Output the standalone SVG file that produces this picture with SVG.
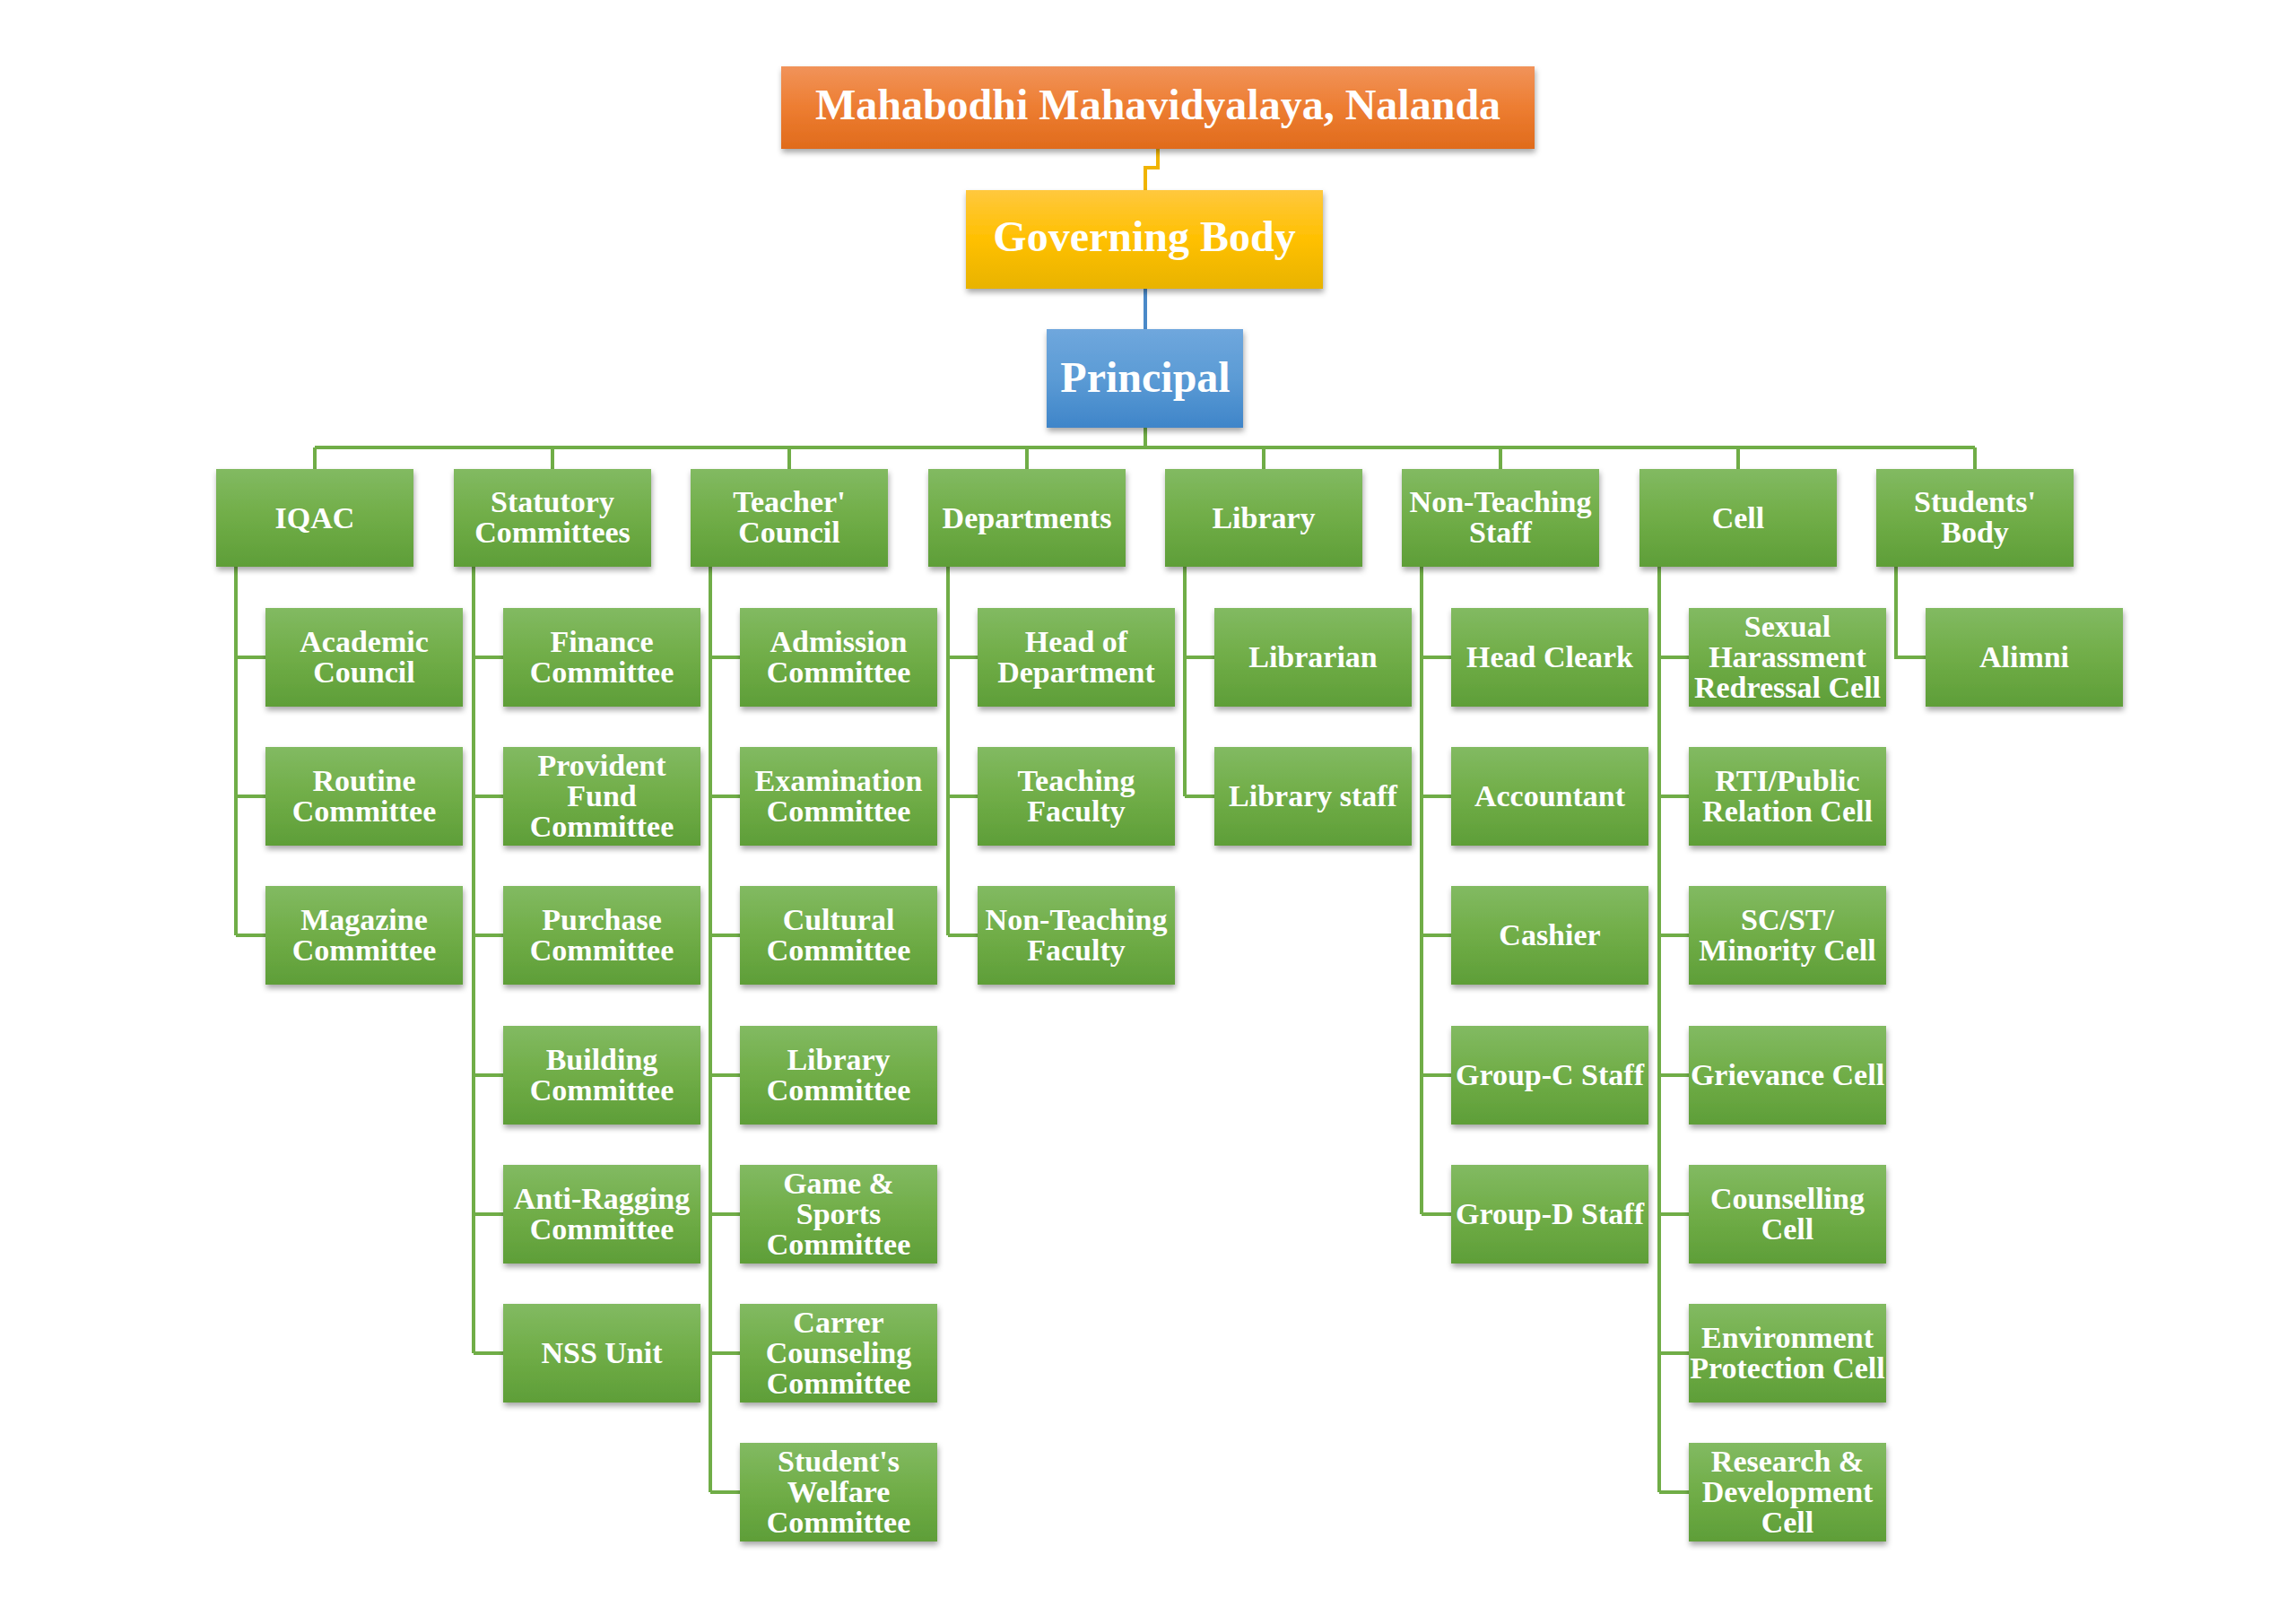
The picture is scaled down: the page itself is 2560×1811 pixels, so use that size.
<svg xmlns="http://www.w3.org/2000/svg" width="2560" height="1811" viewBox="0 0 2560 1811">
<defs>
<linearGradient id="gGreen" x1="0" y1="0" x2="0" y2="1"><stop offset="0" stop-color="#82BA62"/><stop offset="0.5" stop-color="#70AD47"/><stop offset="1" stop-color="#5E9E38"/></linearGradient>
<linearGradient id="gOrange" x1="0" y1="0" x2="0" y2="1"><stop offset="0" stop-color="#F1935A"/><stop offset="0.5" stop-color="#ED7D31"/><stop offset="1" stop-color="#E06B1C"/></linearGradient>
<linearGradient id="gGold" x1="0" y1="0" x2="0" y2="1"><stop offset="0" stop-color="#FFC83E"/><stop offset="0.5" stop-color="#FFC000"/><stop offset="1" stop-color="#E8B300"/></linearGradient>
<linearGradient id="gBlue" x1="0" y1="0" x2="0" y2="1"><stop offset="0" stop-color="#6FA7DD"/><stop offset="0.5" stop-color="#5B9BD5"/><stop offset="1" stop-color="#3F85C9"/></linearGradient>
<filter id="sh" x="-10%" y="-15%" width="120%" height="140%"><feDropShadow dx="1" dy="4" stdDeviation="3" flood-color="#000" flood-opacity="0.35"/></filter>
</defs>
<style>
.g{fill:url(#gGreen);filter:url(#sh)}
.o{fill:url(#gOrange);filter:url(#sh)}
.y{fill:url(#gGold);filter:url(#sh)}
.b{fill:url(#gBlue);filter:url(#sh)}
text{font-family:"Liberation Serif","Times New Roman",serif;font-weight:bold;fill:#fff;text-anchor:middle}
.t{font-size:34px}
.big{font-size:48px}
.ln{fill:none;stroke:#70AD47;stroke-width:4}
</style>
<rect width="2560" height="1811" fill="#fff"/>
<g id="connectors">
<path d="M1291,166 V187 H1277 V212" fill="none" stroke="#F0B400" stroke-width="4"/>
<path d="M1277,322 V367" fill="none" stroke="#4A89C8" stroke-width="4"/>
<path class="ln" d="M1277,477 V499 M351,499 H2202 M351,499 V523 M616,499 V523 M880,499 V523 M1145,499 V523 M1409,499 V523 M1673,499 V523 M1938,499 V523 M2202,499 V523"/>
<path class="ln" d="M263,632 V1043 M263,733 H296 M263,888 H296 M263,1043 H296"/>
<path class="ln" d="M528,632 V1509 M528,733 H561 M528,888 H561 M528,1043 H561 M528,1199 H561 M528,1354 H561 M528,1509 H561"/>
<path class="ln" d="M792,632 V1664 M792,733 H825 M792,888 H825 M792,1043 H825 M792,1199 H825 M792,1354 H825 M792,1509 H825 M792,1664 H825"/>
<path class="ln" d="M1057,632 V1043 M1057,733 H1090 M1057,888 H1090 M1057,1043 H1090"/>
<path class="ln" d="M1321,632 V888 M1321,733 H1354 M1321,888 H1354"/>
<path class="ln" d="M1585,632 V1354 M1585,733 H1618 M1585,888 H1618 M1585,1043 H1618 M1585,1199 H1618 M1585,1354 H1618"/>
<path class="ln" d="M1850,632 V1664 M1850,733 H1883 M1850,888 H1883 M1850,1043 H1883 M1850,1199 H1883 M1850,1354 H1883 M1850,1509 H1883 M1850,1664 H1883"/>
<path class="ln" d="M2114,632 V733 H2147"/>
</g>
<g id="title"><rect class="o" x="871" y="74" width="840" height="92"/><text class="big" x="1291" y="133">Mahabodhi Mahavidyalaya, Nalanda</text></g>
<g id="governing-body"><rect class="y" x="1077" y="212" width="398" height="110"/><text class="big" x="1276" y="280">Governing Body</text></g>
<g id="principal"><rect class="b" x="1167" y="367" width="219" height="110"/><text class="big" x="1277" y="437">Principal</text></g>

<g id="iqac"><rect class="g" x="241" y="523" width="220" height="109"/><text class="t" x="351" y="589">IQAC</text></g>
<g id="statutory"><rect class="g" x="506" y="523" width="220" height="109"/><text class="t"><tspan x="616" y="571">Statutory</tspan><tspan x="616" y="605">Committees</tspan></text></g>
<g id="teacher-council"><rect class="g" x="770" y="523" width="220" height="109"/><text class="t"><tspan x="880" y="571">Teacher'</tspan><tspan x="880" y="605">Council</tspan></text></g>
<g id="departments"><rect class="g" x="1035" y="523" width="220" height="109"/><text class="t" x="1145" y="589">Departments</text></g>
<g id="library"><rect class="g" x="1299" y="523" width="220" height="109"/><text class="t" x="1409" y="589">Library</text></g>
<g id="non-teaching-staff"><rect class="g" x="1563" y="523" width="220" height="109"/><text class="t"><tspan x="1673" y="571">Non-Teaching</tspan><tspan x="1673" y="605">Staff</tspan></text></g>
<g id="cell"><rect class="g" x="1828" y="523" width="220" height="109"/><text class="t" x="1938" y="589">Cell</text></g>
<g id="students-body"><rect class="g" x="2092" y="523" width="220" height="109"/><text class="t"><tspan x="2202" y="571">Students'</tspan><tspan x="2202" y="605">Body</tspan></text></g>

<g id="academic-council"><rect class="g" x="296" y="678" width="220" height="110"/><text class="t"><tspan x="406" y="727">Academic</tspan><tspan x="406" y="761">Council</tspan></text></g>
<g id="routine-committee"><rect class="g" x="296" y="833" width="220" height="110"/><text class="t"><tspan x="406" y="882">Routine</tspan><tspan x="406" y="916">Committee</tspan></text></g>
<g id="magazine-committee"><rect class="g" x="296" y="988" width="220" height="110"/><text class="t"><tspan x="406" y="1037">Magazine</tspan><tspan x="406" y="1071">Committee</tspan></text></g>

<g id="finance-committee"><rect class="g" x="561" y="678" width="220" height="110"/><text class="t"><tspan x="671" y="727">Finance</tspan><tspan x="671" y="761">Committee</tspan></text></g>
<g id="provident-fund-committee"><rect class="g" x="561" y="833" width="220" height="110"/><text class="t"><tspan x="671" y="865">Provident</tspan><tspan x="671" y="899">Fund</tspan><tspan x="671" y="933">Committee</tspan></text></g>
<g id="purchase-committee"><rect class="g" x="561" y="988" width="220" height="110"/><text class="t"><tspan x="671" y="1037">Purchase</tspan><tspan x="671" y="1071">Committee</tspan></text></g>
<g id="building-committee"><rect class="g" x="561" y="1144" width="220" height="110"/><text class="t"><tspan x="671" y="1193">Building</tspan><tspan x="671" y="1227">Committee</tspan></text></g>
<g id="anti-ragging-committee"><rect class="g" x="561" y="1299" width="220" height="110"/><text class="t"><tspan x="671" y="1348">Anti-Ragging</tspan><tspan x="671" y="1382">Committee</tspan></text></g>
<g id="nss-unit"><rect class="g" x="561" y="1454" width="220" height="110"/><text class="t" x="671" y="1520">NSS Unit</text></g>

<g id="admission-committee"><rect class="g" x="825" y="678" width="220" height="110"/><text class="t"><tspan x="935" y="727">Admission</tspan><tspan x="935" y="761">Committee</tspan></text></g>
<g id="examination-committee"><rect class="g" x="825" y="833" width="220" height="110"/><text class="t"><tspan x="935" y="882">Examination</tspan><tspan x="935" y="916">Committee</tspan></text></g>
<g id="cultural-committee"><rect class="g" x="825" y="988" width="220" height="110"/><text class="t"><tspan x="935" y="1037">Cultural</tspan><tspan x="935" y="1071">Committee</tspan></text></g>
<g id="library-committee"><rect class="g" x="825" y="1144" width="220" height="110"/><text class="t"><tspan x="935" y="1193">Library</tspan><tspan x="935" y="1227">Committee</tspan></text></g>
<g id="game-sports-committee"><rect class="g" x="825" y="1299" width="220" height="110"/><text class="t"><tspan x="935" y="1331">Game &amp;</tspan><tspan x="935" y="1365">Sports</tspan><tspan x="935" y="1399">Committee</tspan></text></g>
<g id="carrer-counseling-committee"><rect class="g" x="825" y="1454" width="220" height="110"/><text class="t"><tspan x="935" y="1486">Carrer</tspan><tspan x="935" y="1520">Counseling</tspan><tspan x="935" y="1554">Committee</tspan></text></g>
<g id="students-welfare-committee"><rect class="g" x="825" y="1609" width="220" height="110"/><text class="t"><tspan x="935" y="1641">Student's</tspan><tspan x="935" y="1675">Welfare</tspan><tspan x="935" y="1709">Committee</tspan></text></g>

<g id="head-of-department"><rect class="g" x="1090" y="678" width="220" height="110"/><text class="t"><tspan x="1200" y="727">Head of</tspan><tspan x="1200" y="761">Department</tspan></text></g>
<g id="teaching-faculty"><rect class="g" x="1090" y="833" width="220" height="110"/><text class="t"><tspan x="1200" y="882">Teaching</tspan><tspan x="1200" y="916">Faculty</tspan></text></g>
<g id="non-teaching-faculty"><rect class="g" x="1090" y="988" width="220" height="110"/><text class="t"><tspan x="1200" y="1037">Non-Teaching</tspan><tspan x="1200" y="1071">Faculty</tspan></text></g>

<g id="librarian"><rect class="g" x="1354" y="678" width="220" height="110"/><text class="t" x="1464" y="744">Librarian</text></g>
<g id="library-staff"><rect class="g" x="1354" y="833" width="220" height="110"/><text class="t" x="1464" y="899">Library staff</text></g>

<g id="head-cleark"><rect class="g" x="1618" y="678" width="220" height="110"/><text class="t" x="1728" y="744">Head Cleark</text></g>
<g id="accountant"><rect class="g" x="1618" y="833" width="220" height="110"/><text class="t" x="1728" y="899">Accountant</text></g>
<g id="cashier"><rect class="g" x="1618" y="988" width="220" height="110"/><text class="t" x="1728" y="1054">Cashier</text></g>
<g id="group-c-staff"><rect class="g" x="1618" y="1144" width="220" height="110"/><text class="t" x="1728" y="1210">Group-C Staff</text></g>
<g id="group-d-staff"><rect class="g" x="1618" y="1299" width="220" height="110"/><text class="t" x="1728" y="1365">Group-D Staff</text></g>

<g id="sexual-harassment-cell"><rect class="g" x="1883" y="678" width="220" height="110"/><text class="t"><tspan x="1993" y="710">Sexual</tspan><tspan x="1993" y="744">Harassment</tspan><tspan x="1993" y="778">Redressal Cell</tspan></text></g>
<g id="rti-cell"><rect class="g" x="1883" y="833" width="220" height="110"/><text class="t"><tspan x="1993" y="882">RTI/Public</tspan><tspan x="1993" y="916">Relation Cell</tspan></text></g>
<g id="minority-cell"><rect class="g" x="1883" y="988" width="220" height="110"/><text class="t"><tspan x="1993" y="1037">SC/ST/</tspan><tspan x="1993" y="1071">Minority Cell</tspan></text></g>
<g id="grievance-cell"><rect class="g" x="1883" y="1144" width="220" height="110"/><text class="t" x="1993" y="1210">Grievance Cell</text></g>
<g id="counselling-cell"><rect class="g" x="1883" y="1299" width="220" height="110"/><text class="t"><tspan x="1993" y="1348">Counselling</tspan><tspan x="1993" y="1382">Cell</tspan></text></g>
<g id="environment-cell"><rect class="g" x="1883" y="1454" width="220" height="110"/><text class="t"><tspan x="1993" y="1503">Environment</tspan><tspan x="1993" y="1537">Protection Cell</tspan></text></g>
<g id="research-cell"><rect class="g" x="1883" y="1609" width="220" height="110"/><text class="t"><tspan x="1993" y="1641">Research &amp;</tspan><tspan x="1993" y="1675">Development</tspan><tspan x="1993" y="1709">Cell</tspan></text></g>

<g id="alimni"><rect class="g" x="2147" y="678" width="220" height="110"/><text class="t" x="2257" y="744">Alimni</text></g>
</svg>
